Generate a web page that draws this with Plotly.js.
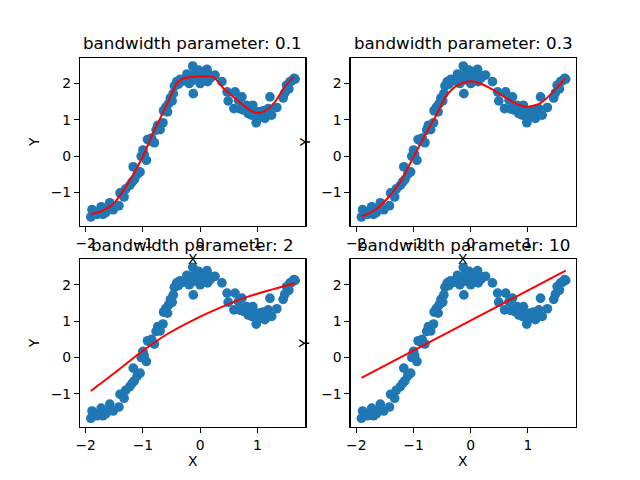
<!DOCTYPE html>
<html>
<head>
<meta charset="utf-8">
<script src="https://cdn.plot.ly/plotly-3.0.1.min.js"></script>
<style>
	body { margin: 0; background: #fff; }
	#chart { width: 640px; height: 480px; }
</style>
</head>
<body>
<div id="chart"></div>
<script>
// scatter data (same in every panel) ------------------------------------------
const dataX = [
	-1.91, -1.89, -1.85, -1.80, -1.75, -1.73, -1.70, -1.65, -1.62, -1.58,
	-1.52, -1.42, -1.40, -1.33, -1.30, -1.23, -1.19, -1.17, -1.15, -1.10,
	-1.05, -1.03, -1.00, -0.98, -0.94, -0.92, -0.87, -0.85, -0.80, -0.77,
	-0.74, -0.70, -0.65, -0.64, -0.60, -0.57, -0.55, -0.52, -0.49, -0.47,
	-0.45, -0.41, -0.38, -0.35, -0.29, -0.23, -0.20, -0.19, -0.13, -0.12,
	-0.10, -0.09, -0.06, -0.03, -0.02, 0.00, 0.03, 0.05, 0.08, 0.09,
	0.12, 0.13, 0.15, 0.18, 0.26, 0.38, 0.47, 0.49, 0.59, 0.61,
	0.67, 0.70, 0.73, 0.76, 0.78, 0.81, 0.84, 0.85, 0.88, 0.90,
	0.92, 0.95, 0.98, 1.00, 1.02, 1.05, 1.08, 1.10, 1.13, 1.15,
	1.19, 1.20, 1.22, 1.25, 1.34, 1.45, 1.48, 1.51, 1.55, 1.57,
	1.60, 1.64, 1.66
];
const dataY = [
	-1.67, -1.47, -1.55, -1.60, -1.50, -1.39, -1.60, -1.55, -1.47, -1.28,
	-1.47, -1.36, -1.01, -1.12, -0.90, -0.80, -0.71, -0.29, -0.64, -0.50,
	-0.43, 0.00, 0.17, 0.05, -0.11, 0.46, 0.42, 0.50, 0.37, 0.72,
	0.85, 0.73, 0.92, 1.25, 1.35, 1.22, 1.45, 1.60, 1.52, 1.72,
	1.93, 2.05, 1.98, 2.11, 2.07, 2.26, 2.15, 2.00, 2.48, 1.72,
	2.10, 2.28, 2.14, 2.37, 2.20, 2.00, 2.05, 2.28, 2.32, 2.09,
	2.39, 2.05, 2.25, 2.15, 2.23, 2.05, 1.77, 1.52, 1.31, 1.77,
	1.54, 1.30, 1.63, 1.27, 1.35, 1.40, 1.17, 1.25, 1.35, 1.13,
	1.40, 1.22, 0.92, 1.05, 1.22, 1.15, 1.08, 1.25, 1.04, 1.10,
	1.31, 1.15, 1.63, 1.13, 1.34, 1.60, 1.74, 1.95, 1.85, 2.05,
	2.07, 2.14, 2.12
];

// fitted curves ---------------------------------------------------------------
const fitX1 = [-1.91, -1.69, -1.51, -1.34, -1.16, -1.00, -0.84, -0.67, -0.52, -0.41,
	-0.29, -0.12, 0.12, 0.23, 0.41, 0.58, 0.76, 0.90, 1.02, 1.16, 1.31, 1.48, 1.64];
const fitY1 = [-1.60, -1.49, -1.30, -0.94, -0.48, 0.00, 0.58, 1.13, 1.63, 2.00,
	2.14, 2.18, 2.20, 2.18, 1.86, 1.63, 1.40, 1.24, 1.19, 1.27, 1.50, 1.91, 2.18];

const fitX2 = [-1.91, -1.69, -1.46, -1.23, -1.03, -0.83, -0.62, -0.42, -0.24, -0.01,
	0.16, 0.40, 0.63, 0.86, 1.01, 1.21, 1.41, 1.65];
const fitY2 = [-1.66, -1.50, -1.17, -0.71, -0.11, 0.49, 1.08, 1.68, 1.95, 2.06,
	2.00, 1.82, 1.59, 1.40, 1.36, 1.45, 1.72, 2.14];

const fitX3 = [-1.91, -1.51, -0.99, -0.58, -0.12, 0.35, 0.81, 1.28, 1.66];
const fitY3 = [-0.92, -0.44, 0.20, 0.64, 1.03, 1.37, 1.66, 1.88, 2.04];

const fitX4 = [-1.91, -1.00, 0.00, 1.00, 1.66];
const fitY4 = [-0.56, 0.19, 1.02, 1.84, 2.39];

const bandwidths = ["0.1", "0.3", "2", "10"];

// build traces ----------------------------------------------------------------
const fits = [[fitX1, fitY1], [fitX2, fitY2], [fitX3, fitY3], [fitX4, fitY4]];
const axisIds = [["x", "y"], ["x2", "y2"], ["x3", "y3"], ["x4", "y4"]];
const shapes = ["spline", "spline", "spline", "linear"];
const smooth = [0.6, 0.6, 1.0, 0];

var traces = [];
for (let i = 0; i < 4; i++) {
	traces.push({
		x: dataX,
		y: dataY,
		mode: "markers",
		type: "scatter",
		marker: { color: "#1f77b4", size: 9.7, line: { width: 0 } },
		xaxis: axisIds[i][0],
		yaxis: axisIds[i][1],
		hoverinfo: "skip",
	});
	traces.push({
		x: fits[i][0],
		y: fits[i][1],
		mode: "lines",
		type: "scatter",
		line: { color: "red", width: 2, shape: shapes[i], smoothing: smooth[i] },
		xaxis: axisIds[i][0],
		yaxis: axisIds[i][1],
	});
}

// axes ------------------------------------------------------------------------
const font = { family: "DejaVu Sans", size: 13.9, color: "black" };

function axis(domain, range, anchor) {
	return {
		domain: domain,
		range: range,
		anchor: anchor,
		dtick: 1,
		showgrid: false,
		zeroline: false,
		showline: true,
		mirror: true,
		linecolor: "black",
		linewidth: 1.1,
		ticks: "outside",
		ticklen: 5,
		tickwidth: 1.1,
		tickcolor: "black",
		tickfont: font,
	};
}

const left = [0, 0.4545];
const right = [0.5455, 1];
const top_ = [0.5455, 1];
const bottom = [0, 0.4545];
const xr = [-2.10, 1.84];
const yr = [-1.91, 2.70];

// titles and axis labels as annotations ---------------------------------------
var annotations = [];
const cx = [0.2273, 0.7727, 0.2273, 0.7727];
const titleY = [1.0395, 1.0395, 0.4943, 0.4943];
const xLabelY = [0.455, 0.455, -0.0909, -0.0909];
const yLabelX = [-0.0927, 0.4526, -0.0927, 0.4526];
const yLabelY = [0.7727, 0.7727, 0.2273, 0.2273];
for (let i = 0; i < 4; i++) {
	annotations.push({
		text: "bandwidth parameter: " + bandwidths[i],
		xref: "paper", yref: "paper",
		x: cx[i], y: titleY[i],
		xanchor: "center", yanchor: "middle",
		showarrow: false,
		font: { family: "DejaVu Sans", size: 16.7, color: "black" },
	});
	annotations.push({
		text: "X",
		xref: "paper", yref: "paper",
		x: cx[i], y: xLabelY[i],
		xanchor: "center", yanchor: "middle",
		showarrow: false,
		font: font,
	});
	annotations.push({
		text: "Y",
		xref: "paper", yref: "paper",
		x: yLabelX[i], y: yLabelY[i],
		xanchor: "center", yanchor: "middle",
		textangle: -90,
		showarrow: false,
		font: font,
	});
}

var layout = {
	width: 640,
	height: 480,
	margin: { l: 80, r: 64, t: 57.6, b: 52.8, pad: 0 },
	paper_bgcolor: "white",
	plot_bgcolor: "white",
	showlegend: false,
	font: font,
	xaxis: axis(left, xr, "y"),
	yaxis: axis(top_, yr, "x"),
	xaxis2: axis(right, xr, "y2"),
	yaxis2: axis(top_, yr, "x2"),
	xaxis3: axis(left, xr, "y3"),
	yaxis3: axis(bottom, yr, "x3"),
	xaxis4: axis(right, xr, "y4"),
	yaxis4: axis(bottom, yr, "x4"),
	annotations: annotations,
};

Plotly.newPlot("chart", traces, layout, { displayModeBar: false, staticPlot: true });
</script>
</body>
</html>
